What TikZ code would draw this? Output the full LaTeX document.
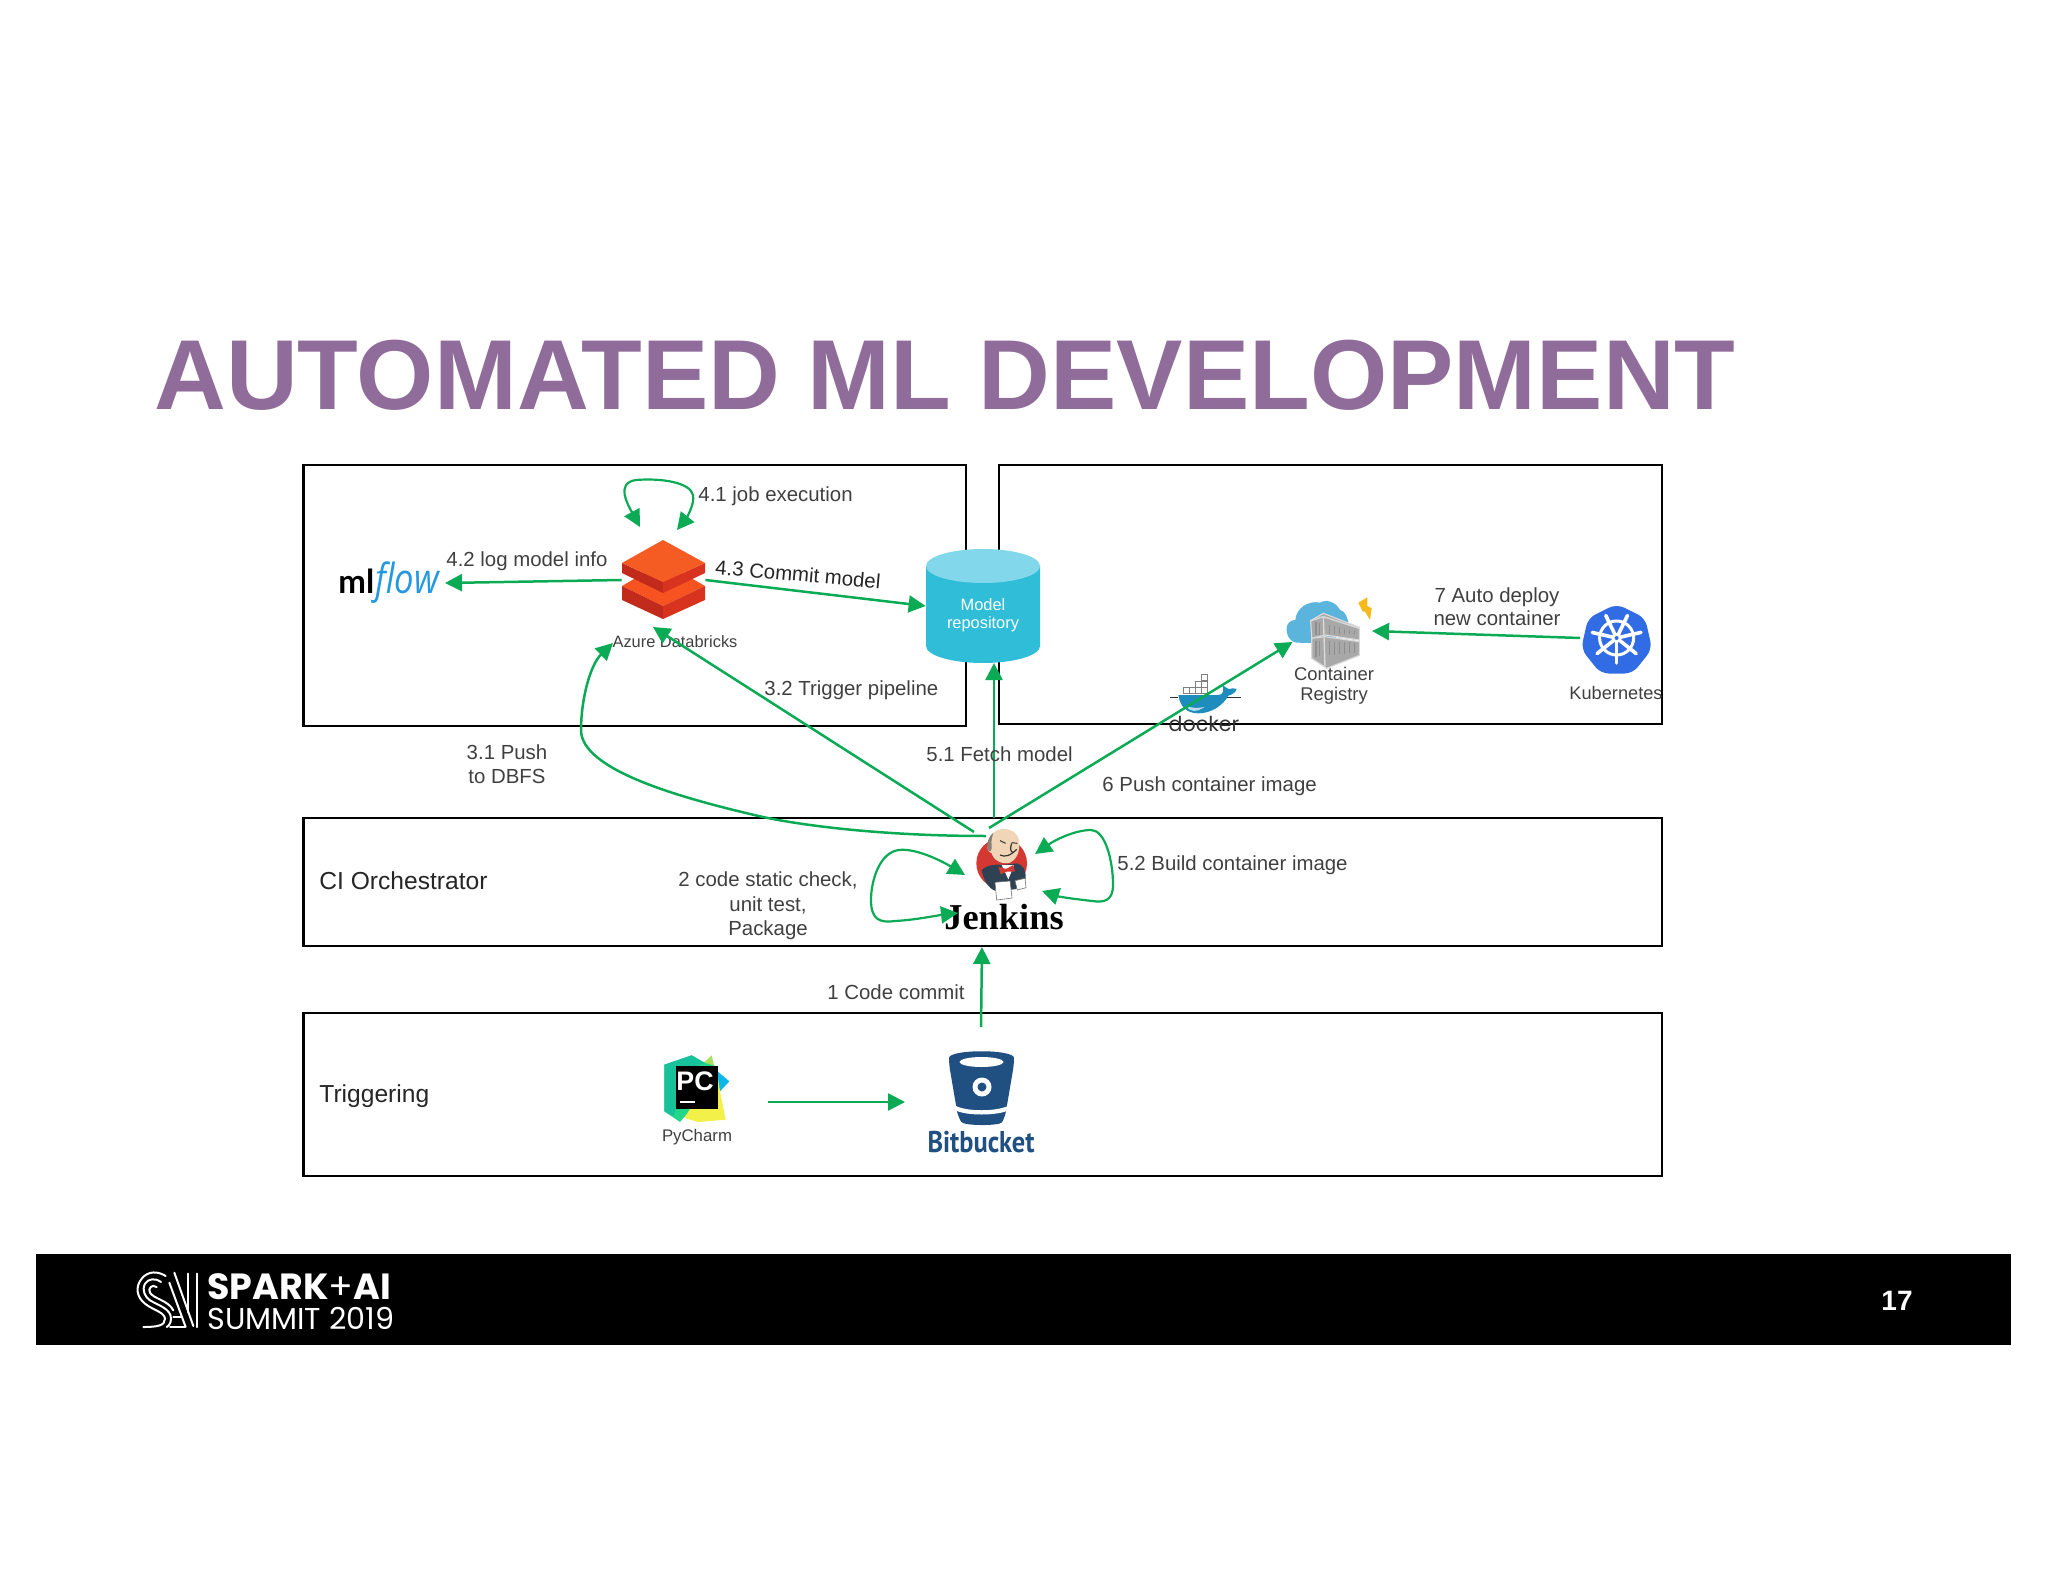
\documentclass[tikz,border=0pt]{standalone}
\usepackage{fontspec}
\usepackage{graphicx}
\setmainfont{Liberation Sans}
\newfontfamily\jfont{Liberation Serif}
\newfontfamily\bbfont{PT Sans}[FakeStretch=0.88]
\newfontfamily\sfont{Poppins}
\newfontfamily\mlfont{Lato}
\newfontfamily\flowfont{Open Sans}
\usetikzlibrary{arrows.meta,fit,calc}
\definecolor{lblgray}{HTML}{404040}
\definecolor{flowgreen}{HTML}{0BAA55}
\definecolor{titlepurple}{HTML}{906C9B}
\definecolor{dbtop}{HTML}{F55C23}
\definecolor{dbside}{HTML}{D8331F}
\definecolor{dbdark}{HTML}{C22A1C}
\definecolor{cyl}{HTML}{2FBDD8}
\definecolor{cyltop}{HTML}{82D8EA}
\definecolor{k8s}{HTML}{326CE5}
\definecolor{bb}{HTML}{205081}
\definecolor{azure}{HTML}{5AB4DC}
\definecolor{dockerblue}{HTML}{1E8DBE}
\definecolor{jred}{HTML}{D33833}
\definecolor{jskin}{HTML}{F0D6B7}
\definecolor{jsuit}{HTML}{2F4254}
\definecolor{jhair}{HTML}{8A7F78}
\definecolor{contgray}{HTML}{A8A8A8}
\definecolor{contdark}{HTML}{8E8E8E}
\definecolor{bolt}{HTML}{F5B91E}
\definecolor{pcgreen}{HTML}{21D789}
\definecolor{pcteal}{HTML}{17C29A}
\definecolor{pcyellow}{HTML}{F4F04A}
\definecolor{pclime}{HTML}{A8E060}
\definecolor{pcblue}{HTML}{07B8E8}
\definecolor{flowblue}{HTML}{2499E0}
\tikzset{
  panel/.style={draw=black,line width=1.1pt,inner sep=0pt},
  hit/.style={inner sep=0pt,draw=none},
  lbl/.style={font=\fontsize{10.2}{12.4}\selectfont,text=lblgray,inner sep=0pt,align=center},
  small/.style={lbl,font=\fontsize{8.2}{10}\selectfont},
  mid/.style={lbl,font=\fontsize{9.2}{10.4}\selectfont},
  head/.style={inner sep=0pt,text=black!85,font=\fontsize{12.3}{15}\selectfont},
  flow/.style={draw=flowgreen,line width=1.25pt,-{Triangle[length=8.5pt,width=8.5pt]}},
  loop/.style={draw=flowgreen,line width=1.1pt,{Triangle[length=8.5pt,width=8.5pt]}-{Triangle[length=8.5pt,width=8.5pt]}},
  zoomed/.style={shift={#1},x=0.16667pt,y=-0.16667pt},
}
\begin{document}
\begin{tikzpicture}[x=0.5pt,y=-0.5pt]
\useasboundingbox (0,0) rectangle (2048,1582);
\fill[white] (0,0) rectangle (2048,1582);
% title
\node[anchor=base west,inner sep=0pt,text=titlepurple,font=\fontsize{49.7}{60}\selectfont\bfseries] (title) at (154,410) {AUTOMATED ML DEVELOPMENT};
% panels
\node[panel,fit={(303.5,465)(966,726)}] (panelA) {};
\node[panel,fit={(999,465)(1662,724)}] (panelB) {};
\node[panel,fit={(303.5,818)(1662,946)}] (panelC) {};
\node[panel,fit={(303.5,1013)(1662,1176)}] (panelD) {};
\node[head,anchor=west] (ciLabel) at (319,881) {CI Orchestrator};
\node[head,anchor=west] (trigLabel) at (319,1096.5) {Triggering};
% footer
\fill[black] (36,1254) rectangle (2011,1345);
\node[anchor=center,inner sep=0pt,text=white,font=\fontsize{14}{16}\selectfont\bfseries] (pageNo) at (1897,1301) {17};
\node[anchor=base west,inner sep=0pt,text=white,font=\fontsize{18.2}{20}\sfont\bfseries] (spark) at (207,1299) {SPARK{\mdseries+}AI};
\node[anchor=base west,inner sep=0pt,text=white,font=\fontsize{15.1}{18}\sfont] (summit) at (207,1329) {SUMMIT 2019};
\begin{scope}[zoomed={(125,1262)},draw=white,line width=1pt,line cap=round]
  \draw (122,42) .. controls (100,28) and (70,25) .. (50,50) .. controls (30,75) and (35,105) .. (60,125) .. controls (85,145) and (118,150) .. (120,170) .. controls (120,190) and (100,195) .. (55,195);
  \draw (108,60) .. controls (90,47) and (70,50) .. (60,65) .. controls (50,85) and (60,105) .. (75,115) .. controls (100,130) and (138,140) .. (138,170) .. controls (138,185) and (130,192) .. (125,195);
  \draw (95,75) .. controls (80,65) and (68,80) .. (75,92) .. controls (85,110) and (130,115) .. (145,145);
  \draw (148,32) -- (205,192);
  \draw (133,62) -- (182,195);
  \draw (190,35) -- (190,150);
  \draw (215,35) -- (215,195);
  \draw (145,165) -- (170,165);
  \draw (135,195) -- (180,195);
\end{scope}
% Databricks
\fill[dbtop!90!red] (622,586) -- (663,562) -- (705,586) -- (663,606) -- cycle;
\fill[dbdark] (622,586) -- (663,606) -- (663,619) -- (622,600) -- cycle;
\fill[dbside] (705,586) -- (663,606) -- (663,619) -- (705,600) -- cycle;
\fill[dbdark] (622,563) -- (663,582) -- (663,593) -- (622,573) -- cycle;
\fill[dbside] (705,563) -- (663,582) -- (663,593) -- (705,573) -- cycle;
\fill[dbtop] (622,563) -- (663,540) -- (705,563) -- (663,582) -- cycle;
\node[hit,fit={(622,540)(705,620)}] (databricks) {};
\node[small] (dbLabel) at (675,642) {Azure Databricks};
% repository cylinder
\fill[cyl] (926,566) -- (926,646) arc[start angle=180,end angle=0,x radius=57,y radius=17] -- (1040,566) -- cycle;
\fill[cyltop] (983,566) ellipse[x radius=57,y radius=17];
\node[hit,fit={(926,549)(1040,663)}] (repo) {};
\node[hit,text=white,font=\fontsize{8.2}{9.2}\selectfont,align=center] (repoText) at (983,615) {Model\\repository};
% mlflow
\node[inner sep=0pt,anchor=base west,font=\fontsize{16.5}{20}\mlfont] (mlflow) at (338,593.5) {\textbf{ml}{\color{flowblue}\hspace{0.6pt}\scalebox{1.0}[1.2]{\flowfont\itshape\fontsize{17.3}{20}\selectfont flow}}};
\coordinate (mlflowTip) at (445,583);
% Jenkins
\begin{scope}[zoomed={(960,820)}]
  \fill[jred] (125,130) circle[radius=76];
  \fill[jsuit] (65,150) .. controls (80,135) and (110,132) .. (125,135) -- (170,130) .. controls (190,135) and (198,150) .. (197,175) -- (190,195) -- (165,208) -- (105,212) .. controls (85,205) and (70,180) .. (65,150) -- cycle;
  \fill[white] (125,135) -- (162,135) -- (145,178) -- cycle;
  \fill[jred] (115,140) -- (138,147) -- (160,135) -- (165,155) -- (140,155) -- (122,163) -- cycle;
  \fill[jskin] (130,27) .. controls (160,27) and (178,45) .. (178,72) .. controls (178,100) and (168,120) .. (150,128) .. controls (125,135) and (100,120) .. (95,100) .. controls (82,95) and (78,80) .. (88,70) .. controls (88,45) and (105,27) .. (130,27) -- cycle;
  \fill[jhair] (100,38) .. controls (85,50) and (78,70) .. (85,90) .. controls (92,98) and (95,92) .. (95,78) .. controls (92,60) and (98,48) .. (100,38) -- cycle;
  \draw[black!80,line width=0.5pt] (120,62) -- (137,70) (155,68) -- (172,70);
  \draw[black!80,line width=0.6pt] (155,70) .. controls (150,85) and (150,95) .. (160,98);
  \draw[black!80,line width=0.6pt] (120,105) .. controls (135,112) and (150,108) .. (170,88);
  \fill[white,draw=black!55,line width=0.3pt] (105,187) -- (150,183) -- (156,234) -- (110,240) -- cycle;
  \fill[white,draw=black!55,line width=0.3pt] (165,182) -- (195,175) -- (198,203) -- (172,210) -- cycle;
\end{scope}
\node[hit,fit={(975,828)(1030,900)}] (jenkinsIcon) {};
\node[inner sep=0pt,text=black,font=\fontsize{18.2}{20}\jfont\bfseries] (jenkinsText) at (1004,917) {Jenkins};
% Docker
\begin{scope}[zoomed={(1165,665)}]
  \foreach \cx/\cy in {55/66,73/66,92/66,110/66,92/48,110/48,110/28}{
    \draw[fill=white,draw=gray,line width=0.35pt] (\cx,\cy) rectangle ++(18,18);
  }
  \fill[dockerblue] (40,90) -- (160,90) .. controls (175,90) and (178,75) .. (172,60) .. controls (180,65) and (188,72) .. (193,72) .. controls (200,68) and (208,70) .. (215,72) .. controls (212,82) and (200,90) .. (190,92) .. controls (175,120) and (140,145) .. (100,145) .. controls (65,145) and (45,125) .. (40,90) -- cycle;
  \fill[white!70!dockerblue] (62,122) .. controls (75,142) and (95,142) .. (118,126) .. controls (100,130) and (80,130) .. (62,122) -- cycle;
  \draw[black!80,line width=0.35pt] (15,97) -- (40,97) (185,97) -- (228,97);
\end{scope}
\node[hit,fit={(1171,673)(1238,713)}] (dockerIcon) {};
\node[inner sep=0pt,text=black!80,font=\fontsize{10.3}{12}\sfont] (dockerText) at (1204,724) {docker};
% Container Registry
\begin{scope}[zoomed={(1280,590)}]
  \fill[azure] (50,158) .. controls (25,155) and (15,125) .. (22,105) .. controls (28,92) and (40,90) .. (46,90) .. controls (48,55) and (85,30) .. (120,38) .. controls (135,28) and (165,32) .. (180,60) .. controls (195,62) and (205,85) .. (205,105) -- (150,160) -- cycle;
  \fill[contgray,draw=white!85!black,line width=0.6pt] (92,92) -- (130,70) -- (238,112) -- (238,150) -- (135,135) -- (95,145) -- cycle;
  \fill[contgray,draw=white!85!black,line width=0.6pt] (95,145) -- (135,140) -- (238,155) -- (238,196) -- (140,235) -- (95,205) -- cycle;
  \draw[white!85!black,line width=0.7pt] (92,92) -- (130,80) -- (238,115);
  \draw[white!85!black,line width=0.7pt] (130,80) -- (132,137) (132,142) -- (135,230);
  \foreach \x in {108,118,148,163,178,193,208,223}{
    \draw[contdark,line width=0.7pt] (\x,{97+(\x-108)*0.22}) -- (\x,{134-(\x-108)*0.02});
    \draw[contdark,line width=0.7pt] (\x,{152+(\x-108)*0.05}) -- (\x,{200-(\x-108)*0.1});
  }
  \fill[bolt] (235,38) -- (262,22) -- (262,48) -- (275,55) -- (270,90) -- (255,65) -- (248,65) -- cycle;
\end{scope}
\node[hit,fit={(1287,597)(1372,662)}] (registryIcon) {};
\node[mid,font=\fontsize{9.2}{10.2}\selectfont] (registryLabel) at (1334,685.5) {Container\\Registry};
% Kubernetes
\fill[k8s,rounded corners=4pt] (1616.6,604) -- ++(28.5,14) -- ++(7,31) -- ++(-19.5,24.5) -- ++(-32,0) -- ++(-19.5,-24.5) -- ++(7,-31) -- cycle;
\draw[white,line width=1.5pt] (1616.6,638) circle[radius=17];
\foreach \a in {90,141.4,192.8,244.3,295.7,347.1,38.6}{
  \draw[white,line width=1.8pt,line cap=round] (1616.6,638) -- ++({\a}:25);
}
\fill[white] (1616.6,638) circle[radius=5];
\fill[k8s] (1616.6,638) circle[radius=2];
\node[hit,fit={(1582,604)(1651,673)}] (k8sIcon) {};
\node[mid,font=\fontsize{9.1}{11}\selectfont] (k8sLabel) at (1616,693) {Kubernetes};
% PyCharm
\begin{scope}[zoomed={(655,1048)}]
  \fill[pcblue] (170,60) -- (185,68) -- (223,100) -- (195,130) -- (170,110) -- cycle;
  \fill[pclime] (170,22) -- (190,110) -- (130,60) -- cycle;
  \fill[pcyellow] (85,205) -- (188,85) -- (195,130) -- (212,215) -- (130,222) -- (95,212) -- cycle;
  \fill[pcgreen] (28,50) -- (110,22) -- (150,45) -- (185,55) -- (95,198) -- (75,222) -- (28,190) -- cycle;
  \fill[pcteal] (28,50) -- (110,22) -- (150,45) -- (100,60) -- (55,205) -- (28,190) -- cycle;
  \fill[black] (62,55) rectangle (188,182);
\end{scope}
\node[hit,fit={(662,1054)(730,1122)}] (pycharmIcon) {};
\node[inner sep=0pt,text=white,font=\fontsize{13.4}{14}\selectfont\bfseries] (pcText) at (695,1081) {PC};
\fill[white] (680,1101) rectangle (695,1103.2);
\node[lbl,font=\fontsize{8.4}{10}\selectfont] (pycharmLabel) at (697,1137.5) {PyCharm};
% Bitbucket
\fill[bb,rounded corners=3pt] (949,1064) .. controls (949,1049) and (1014,1049) .. (1014,1064) -- (1005,1117) .. controls (1000,1126) and (964,1126) .. (958,1117) -- cycle;
\fill[white] (981.5,1062) ellipse[x radius=22,y radius=5];
\fill[white] (982,1087) circle[radius=9.5];
\fill[bb] (982,1087) circle[radius=4.5];
\fill[white] (954,1105) .. controls (965,1112) and (998,1112) .. (1010,1105) -- (1009,1110) .. controls (998,1116) and (965,1116) .. (955,1110) -- cycle;
\node[hit,fit={(949,1052)(1014,1123)}] (bbIcon) {};
\node[inner sep=0pt,text=bb,font=\fontsize{15}{16}\bbfont\bfseries] (bbText) at (981,1142) {Bitbucket};
% coordinates for connector ends
\coordinate (jobA) at (640,527);
\coordinate (jobB) at (677,530);
\coordinate (dbA) at (613,643);
\coordinate (dbB) at (653,627);
\coordinate (jA) at (986,836);
\coordinate (jB) at (974,832);
\coordinate (jC) at (994,818);
\coordinate (jD) at (989,828);
\coordinate (repoFetch) at (994,663);
\coordinate (regIn) at (1292.5,642);
\coordinate (regOut) at (1372,631);
\coordinate (k8sOut) at (1580,638);
\coordinate (bbTop) at (981,1027);
\coordinate (jBottom) at (982,947);
\coordinate (pcOut) at (767.5,1102);
\coordinate (bbIn) at (905,1102);
\coordinate (la) at (965,875);
\coordinate (lb) at (958,913);
\coordinate (ra) at (1035,854);
\coordinate (rb) at (1042,891);
% connectors
\draw[loop] (jobA) .. controls (628,505) and (615,483) .. (636,480) .. controls (660,478) and (690,482) .. (693,495) .. controls (695,505) and (685,520) .. (jobB);
\draw[flow] (databricks.west) -- (mlflowTip);
\draw[flow] (databricks.east) -- (repo.west);
\draw[flow] (jB) -- (dbB);
\draw[flow] (jA) .. controls (880,836) and (800,825) .. (763,817) .. controls (680,798) and (581,770) .. (581,730) .. controls (581,700) and (590,665) .. (dbA);
\draw[flow] (jC) -- (repoFetch);
\draw[flow] (jD) -- (regIn);
\draw[flow] (k8sOut) -- (regOut);
\draw[loop] (la) .. controls (940,860) and (915,848) .. (899,850) .. controls (880,852) and (871,880) .. (871,900) .. controls (871,920) and (880,923) .. (895,921) .. controls (915,920) and (940,915) .. (lb);
\draw[loop] (ra) .. controls (1055,840) and (1075,830) .. (1091,830) .. controls (1105,830) and (1113,860) .. (1113,885) .. controls (1113,900) and (1105,903) .. (1092,901) .. controls (1075,899) and (1060,897) .. (rb);
\draw[flow] (bbTop) -- (jBottom);
\draw[flow] (pcOut) -- (bbIn);
% labels
\node[lbl,anchor=west] (l41) at (698,496.5) {4.1 job execution};
\node[lbl,anchor=west] (l42) at (446,561.5) {4.2 log model info};
\node[lbl,anchor=center,rotate=-5,text=black!85] (l43) at (798,574) {4.3 Commit model};
\node[lbl,anchor=west] (l32) at (764,690.5) {3.2 Trigger pipeline};
\node[lbl,font=\fontsize{10.2}{11.8}\selectfont] (l31) at (507,764) {3.1 Push\\to DBFS};
\node[lbl,anchor=west] (l51) at (926,754) {5.1 Fetch model};
\node[lbl,anchor=west] (l6) at (1102,786.5) {6 Push container image};
\node[lbl,font=\fontsize{10.2}{11.7}\selectfont] (l7) at (1497,607) {7 Auto deploy\\new container};
\node[lbl,font=\fontsize{10.2}{12.2}\selectfont] (l2) at (768,906) {2 code static check,\\unit test,\\Package};
\node[lbl,anchor=west] (l52) at (1117,865.5) {5.2 Build container image};
\node[lbl,anchor=west] (l1) at (827,992) {1 Code commit};
\end{tikzpicture}
\end{document}
